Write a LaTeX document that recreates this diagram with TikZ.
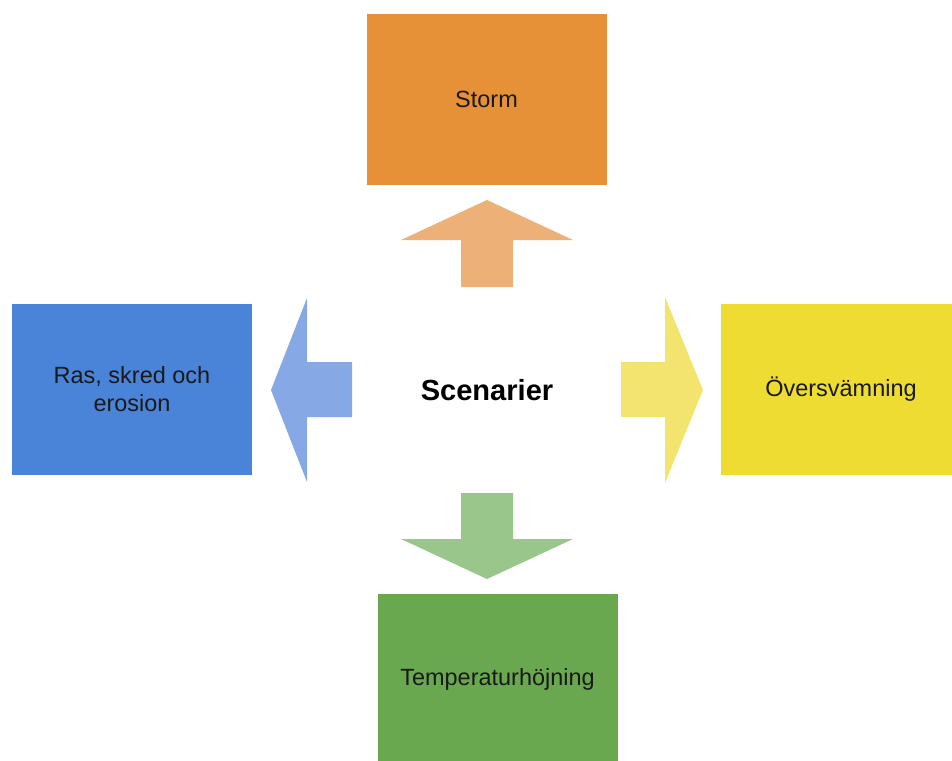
\documentclass[tikz,border=0pt]{standalone}
\usepackage{fontspec}
\setmainfont{Liberation Sans}
\usetikzlibrary{positioning}
\usepackage{xcolor}

\definecolor{stormfill}{HTML}{E69138}
\definecolor{stormarrow}{HTML}{EDB077}
\definecolor{rasfill}{HTML}{4A84D9}
\definecolor{rasarrow}{HTML}{86A8E5}
\definecolor{floodfill}{HTML}{EEDC33}
\definecolor{floodarrow}{HTML}{F2E46F}
\definecolor{tempfill}{HTML}{6AA84F}
\definecolor{temparrow}{HTML}{99C68A}

\tikzset{
  scenbox/.style={minimum width=180pt, minimum height=128.25pt, inner sep=0pt,
    align=center, text=black!90, font=\fontsize{17.6}{21}\selectfont},
}

\begin{document}
\begin{tikzpicture}[x=0.75pt,y=-0.75pt]
    \useasboundingbox (0,0) rectangle (952,760);

    % centre
    \node[font=\bfseries\fontsize{21.8}{26}\selectfont] (scen) at (487,390) {Scenarier};

    % the four boxes
    \node[scenbox, fill=stormfill] (storm) at (486.5,99.5) {Storm};
    \node[scenbox, fill=rasfill] (ras) at (132,389.5) {Ras, skred och\\erosion};
    \node[scenbox, fill=floodfill] (flood) at (841,389.5) {Översvämning};
    \node[scenbox, fill=tempfill] (temp) at (497.5,679.5) {Temperaturhöjning};

    % block arrows
    \fill[stormarrow] (487,200) -- (573,240) -- (513,240) -- (513,287)
        -- (461,287) -- (461,240) -- (401,240) -- cycle;
    \fill[rasarrow] (271,390) -- (307,298) -- (307,362) -- (352,362)
        -- (352,417) -- (307,417) -- (307,482) -- cycle;
    \fill[floodarrow] (703,390) -- (665,297) -- (665,362) -- (621,362)
        -- (621,417) -- (665,417) -- (665,483) -- cycle;
    \fill[temparrow] (487,579) -- (573,539) -- (513,539) -- (513,493)
        -- (461,493) -- (461,539) -- (401,539) -- cycle;
\end{tikzpicture}
\end{document}
